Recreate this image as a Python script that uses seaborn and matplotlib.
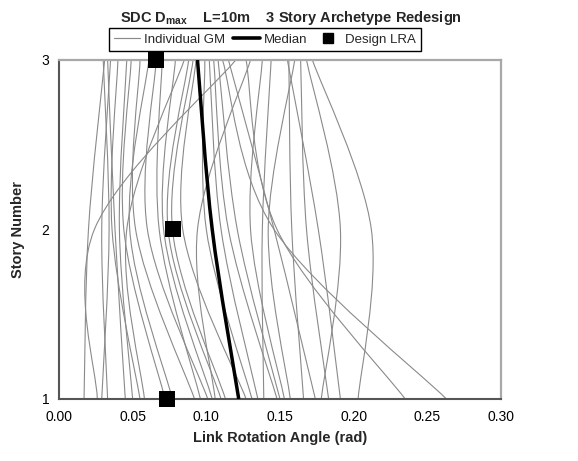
import numpy as np
import pandas as pd
import seaborn as sns
import matplotlib
matplotlib.use("Agg")
import matplotlib.pyplot as plt
from matplotlib.path import Path
from matplotlib.patches import PathPatch
from matplotlib.lines import Line2D

# ---------------- data ----------------
stories = [1, 2, 3]
gm_story1 = [0.017, 0.026, 0.029, 0.033, 0.045, 0.050, 0.055, 0.058, 0.072, 0.077,
             0.092, 0.096, 0.101, 0.104, 0.106, 0.110, 0.113, 0.127, 0.131, 0.135,
             0.139, 0.148, 0.150, 0.153, 0.157, 0.166, 0.174, 0.183, 0.191, 0.178,
             0.203, 0.235, 0.263]
gm_story2 = [0.020, 0.024, 0.034, 0.029, 0.038, 0.041, 0.036, 0.046, 0.044, 0.048,
             0.052, 0.068, 0.060, 0.071, 0.094, 0.074, 0.077, 0.084, 0.100, 0.110,
             0.138, 0.115, 0.121, 0.130, 0.142, 0.158, 0.146, 0.168, 0.176, 0.191,
             0.212, 0.148, 0.146]
gm_story3 = [0.031, 0.120, 0.030, 0.035, 0.033, 0.046, 0.040, 0.085, 0.049, 0.061,
             0.055, 0.070, 0.066, 0.079, 0.130, 0.088, 0.091, 0.093, 0.099, 0.102,
             0.144, 0.105, 0.108, 0.138, 0.160, 0.156, 0.115, 0.164, 0.155, 0.168,
             0.172, 0.127, 0.111]
median_lra = [0.122, 0.104, 0.094]
design_lra = [0.073, 0.0775, 0.066]
x_ticks = [0.00, 0.05, 0.10, 0.15, 0.20, 0.25, 0.30]
y_ticks = [1, 2, 3]

# ---------------- style ----------------
sns.set_style("white")
plt.rcParams['font.family'] = ['Liberation Sans', 'DejaVu Sans']
plt.rcParams['mathtext.fontset'] = 'custom'
plt.rcParams['mathtext.rm'] = 'Liberation Sans'
plt.rcParams['mathtext.bf'] = 'Liberation Sans:bold'

fig = plt.figure(figsize=(5.78, 4.61), dpi=100)
ax = fig.add_axes([59 / 578, 1 - 399 / 461, (501 - 59) / 578, (399 - 60) / 461])


def smooth_patch(xs, ys, **kw):
    """Excel-like smoothed line (Catmull-Rom as cubic Bezier) through the points."""
    pts = np.column_stack([xs, ys]).astype(float)
    n = len(pts)
    verts = [tuple(pts[0])]
    codes = [Path.MOVETO]
    for i in range(n - 1):
        p0 = pts[max(i - 1, 0)]
        p1 = pts[i]
        p2 = pts[i + 1]
        p3 = pts[min(i + 2, n - 1)]
        c1 = p1 + (p2 - p0) / 6.0
        c2 = p2 - (p3 - p1) / 6.0
        verts += [tuple(c1), tuple(c2), tuple(p2)]
        codes += [Path.CURVE4] * 3
    return PathPatch(Path(verts, codes), fill=False, **kw)


gm_color = '#8a8a8a'
for a, b, c in zip(gm_story1, gm_story2, gm_story3):
    ax.add_patch(smooth_patch([a, b, c], stories, edgecolor=gm_color, lw=0.8, zorder=2))

ax.add_patch(smooth_patch(median_lra, stories, edgecolor='black', lw=2.5, zorder=3))

df_design = pd.DataFrame({'lra': design_lra, 'story': stories})
sns.scatterplot(data=df_design, x='lra', y='story', marker='s', s=120, color='black',
                edgecolor='black', linewidth=0, ax=ax, zorder=5, clip_on=False)

ax.set_xlim(0, 0.30)
ax.set_ylim(1, 3)
ax.set_xticks(x_ticks)
ax.set_xticklabels([f"{v:.2f}" for v in x_ticks])
ax.set_yticks(y_ticks)
ax.set_yticklabels([str(v) for v in y_ticks])
ax.tick_params(axis='both', which='both', direction='out', length=5, width=1.2,
               color='#555555', labelsize=10, pad=3, labelcolor='black')
ax.tick_params(axis='y', pad=2)

for side in ['left', 'bottom']:
    ax.spines[side].set_color('#555555')
    ax.spines[side].set_linewidth(1.5)
for side in ['top', 'right']:
    ax.spines[side].set_visible(True)
    ax.spines[side].set_color('#a8a8a8')
    ax.spines[side].set_linewidth(1.6)

ax.set_xlabel('Link Rotation Angle (rad)', fontsize=10.5, fontweight='bold', labelpad=5)
ax.set_ylabel('Story Number', fontsize=10.5, fontweight='bold', labelpad=12)

fig.text(0.503, 1 - 18 / 461, r'SDC D$_{\mathbf{max}}$    L=10m    3 Story Archetype Redesign',
         ha='center', va='center', fontsize=10.5, fontweight='bold')

handles = [
    Line2D([], [], color=gm_color, lw=0.85),
    Line2D([], [], color='black', lw=2.6),
    Line2D([], [], color='black', lw=0, marker='s', markersize=6.5),
]
labels = ['Individual GM', 'Median', 'Design LRA']
leg = fig.legend(handles, labels, loc='center', bbox_to_anchor=(265 / 578, 1 - 39.5 / 461),
                 ncol=3, frameon=True, fancybox=False, edgecolor='black', fontsize=9.5,
                 handlelength=2.0, handletextpad=0.3, columnspacing=0.6, borderpad=0.4,
                 framealpha=1)
leg.get_frame().set_linewidth(1.0)
leg.set_zorder(10)

fig.savefig('out.png', dpi=100)
